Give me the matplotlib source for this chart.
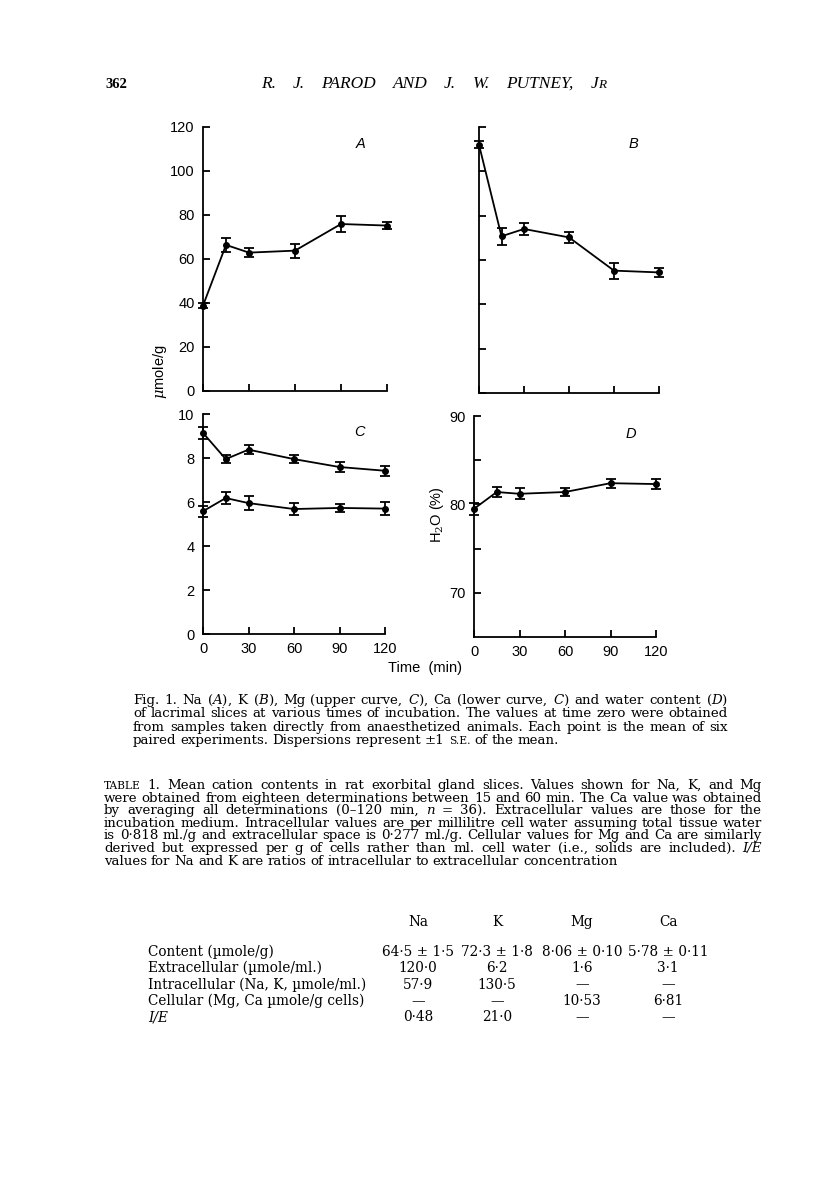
import numpy as np
import matplotlib.pyplot as plt

plt.rcParams['mathtext.fontset'] = 'dejavuserif'

W, H = 816, 1183

# time points (min)
t = [0, 15, 30, 60, 90, 120]

# A: Na, B: K  (umole/g)
na = [38.8, 66.4, 62.9, 63.8, 75.9, 75.2]
na_se = [1.0, 3.3, 2.2, 3.2, 3.8, 1.7]
k = [112.0, 70.7, 74.0, 70.2, 55.2, 54.4]
k_se = [1.5, 3.8, 2.5, 2.6, 3.6, 2.1]

# C: Mg (upper) and Ca (lower)
mg = [9.14, 7.95, 8.38, 7.95, 7.59, 7.42]
mg_se = [0.26, 0.18, 0.19, 0.19, 0.23, 0.23]
ca = [5.58, 6.18, 5.95, 5.68, 5.73, 5.70]
ca_se = [0.24, 0.28, 0.32, 0.26, 0.20, 0.29]

# D: water (%)
h2o = [79.5, 81.4, 81.2, 81.4, 82.4, 82.3]
h2o_se = [0.7, 0.6, 0.6, 0.4, 0.5, 0.6]

# table
ions = ['Na', 'K', 'Mg', 'Ca']
row_labels = ['Content (µmole/g)', 'Extracellular (µmole/ml.)',
              'Intracellular (Na, K, µmole/ml.)',
              'Cellular (Mg, Ca µmole/g cells)', 'I/E']
col_na = ['64·5 ± 1·5', '120·0', '57·9', '—', '0·48']
col_k = ['72·3 ± 1·8', '6·2', '130·5', '—', '21·0']
col_mg = ['8·06 ± 0·10', '1·6', '—', '10·53', '—']
col_ca = ['5·78 ± 0·11', '3·1', '—', '6·81', '—']

fig_caption = [
    'Fig. 1. Na ($A$), K ($B$), Mg (upper curve, $C$), Ca (lower curve, $C$) and water content ($D$)',
    'of lacrimal slices at various times of incubation. The values at time zero were obtained',
    'from samples taken directly from anaesthetized animals. Each point is the mean of six',
    'paired experiments. Dispersions represent ±1 S.E. of the mean.',
]
table_caption = [
    'TABLE 1. Mean cation contents in rat exorbital gland slices. Values shown for Na, K, and Mg',
    'were obtained from eighteen determinations between 15 and 60 min. The Ca value was obtained',
    'by averaging all determinations (0–120 min, n = 36). Extracellular values are those for the',
    'incubation medium. Intracellular values are per millilitre cell water assuming total tissue water',
    'is 0·818 ml./g and extracellular space is 0·277 ml./g. Cellular values for Mg and Ca are similarly',
    'derived but expressed per g of cells rather than ml. cell water (i.e., solids are included). I/E',
    'values for Na and K are ratios of intracellular to extracellular concentration',
]

fig = plt.figure(figsize=(W / 100, H / 100), dpi=100)
SANS = 'Liberation Sans'
SERIF = 'DejaVu Serif'


def box(x0, x1, y0, y1):
    # pixel box -> axes
    return fig.add_axes([x0 / W, 1 - y1 / H, (x1 - x0) / W, (y1 - y0) / H])


def style(ax, ylim, yticks, ylabels, xlabels):
    ax.set_xlim(0, 120)
    ax.set_ylim(*ylim)
    for s in ['top', 'right']:
        ax.spines[s].set_visible(False)
    for s in ['left', 'bottom']:
        ax.spines[s].set_linewidth(1.3)
    ax.set_xticks([0, 30, 60, 90, 120])
    ax.set_yticks(yticks)
    ax.set_yticklabels(ylabels, family=SANS, fontsize=10.5)
    if xlabels:
        ax.set_xticklabels(['0', '30', '60', '90', '120'], family=SANS, fontsize=10.5)
    else:
        ax.set_xticklabels([])
    ax.tick_params(direction='in', length=5, width=1.3, pad=6)


def curve(ax, y, e):
    ax.errorbar(t, y, yerr=e, color='black', lw=1.3, marker='o', ms=4,
                capsize=3.5, capthick=1.3, elinewidth=1.3, clip_on=False)


axA = box(203, 387, 127, 391)
curve(axA, na, na_se)
style(axA, (0, 120), range(0, 121, 20), [str(v) for v in range(0, 121, 20)], False)
axA.text(0.83, 0.92, 'A', transform=axA.transAxes, style='italic', family=SANS, fontsize=10.5)

axB = box(479, 659, 127, 393)
curve(axB, k, k_se)
style(axB, (0, 120), range(0, 121, 20), [], False)
axB.text(0.83, 0.92, 'B', transform=axB.transAxes, style='italic', family=SANS, fontsize=10.5)

axC = box(203, 385, 414, 634)
curve(axC, mg, mg_se)
curve(axC, ca, ca_se)
style(axC, (0, 10), range(0, 11, 2), [str(v) for v in range(0, 11, 2)], True)
axC.text(0.83, 0.9, 'C', transform=axC.transAxes, style='italic', family=SANS, fontsize=10.5)

axD = box(474, 656, 416, 637)
curve(axD, h2o, h2o_se)
style(axD, (65, 90), [70, 75, 80, 85, 90], ['70', '', '80', '', '90'], True)
axD.text(0.83, 0.9, 'D', transform=axD.transAxes, style='italic', family=SANS, fontsize=10.5)

fig.text(160 / W, 1 - 372 / H, '$\\mu$mole/g', rotation=90, ha='center', va='center',
         family=SANS, fontsize=10.5)
fig.text(437 / W, 1 - 515 / H, 'H$_2$O (%)', rotation=90, ha='center', va='center',
         family=SANS, fontsize=10.5)
fig.text(425 / W, 1 - 668 / H, 'Time  (min)', ha='center', va='center', family=SANS, fontsize=10.5)

renderer = fig.canvas.get_renderer()
SMALL = ('S.E.', 'TABLE', 'R')
ITALIC = ('I/E', 'n')


def put_line(text, x0, x1, y, size, justify=True, family=SERIF, **kw):
    words = text.split(' ')
    objs = []
    for w in words:
        sz = size * 0.8 if w in SMALL else size
        st = 'italic' if w in ITALIC else kw.get('style', 'normal')
        objs.append(fig.text(0, 1 - y / H, w, fontsize=sz, family=family,
                             va='baseline', style=st))
    widths = [o.get_window_extent(renderer).width for o in objs]
    space = size * 100 / 72 * 0.3
    if justify and len(words) > 1:
        space = (x1 - x0 - sum(widths)) / (len(words) - 1)
        if space < size * 100 / 72 * 0.2:
            # too long: shrink this line a little
            shrink = (x1 - x0 - (len(words) - 1) * size * 100 / 72 * 0.25) / sum(widths)
            for o in objs:
                o.set_fontsize(o.get_fontsize() * shrink)
            widths = [o.get_window_extent(renderer).width for o in objs]
            space = (x1 - x0 - sum(widths)) / (len(words) - 1)
    x = x0
    for o, w in zip(objs, widths):
        o.set_x(x / W)
        x += w + space
    return objs


# page header
fig.text(105 / W, 1 - 88 / H, '362', family='Liberation Serif', fontsize=10.5,
         weight='bold', va='baseline')
put_line('R. J. PAROD AND J. W. PUTNEY, J', 261, 598, 88, 12.5, justify=True,
         family='Liberation Serif', style='italic')
fig.text(598 / W, 1 - 88 / H, 'R', family='Liberation Serif', style='italic',
         fontsize=9.5, va='baseline')

for i, line in enumerate(fig_caption):
    put_line(line, 133, 728, 704 + i * 13.4, 9.6, justify=i < len(fig_caption) - 1)

for i, line in enumerate(table_caption):
    put_line(line, 104, 762, 789 + i * 12.6, 9.6, justify=i < len(table_caption) - 1)

col_x = [418, 497, 582, 668]
for name, cx in zip(ions, col_x):
    fig.text(cx / W, 1 - 926 / H, name, ha='center', va='baseline', family=SERIF, fontsize=9.8)
for r, lab in enumerate(row_labels):
    y = 1 - (956 + r * 16.3) / H
    fig.text(148 / W, y, lab, va='baseline', family=SERIF, fontsize=9.8,
             style='italic' if lab in ITALIC else 'normal')
    for col, cx in zip([col_na, col_k, col_mg, col_ca], col_x):
        fig.text(cx / W, y, col[r], ha='center', va='baseline', family=SERIF, fontsize=9.8)

fig.savefig('out.png', dpi=100, facecolor='white')
